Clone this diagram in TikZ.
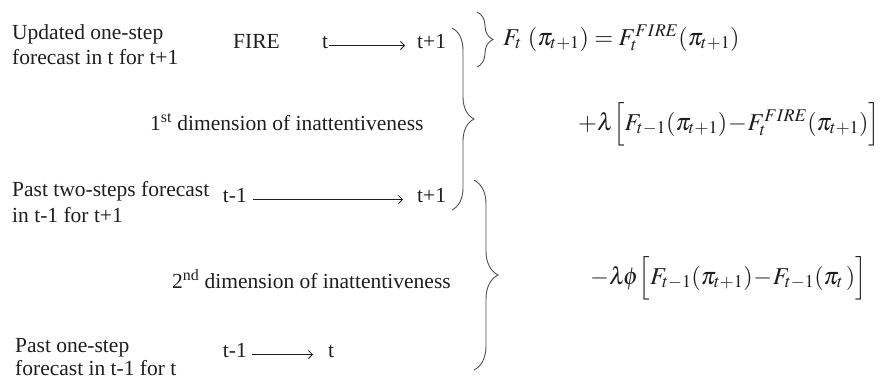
\documentclass[tikz,border=0pt]{standalone}
\usepackage{mathptmx}
\usepackage[no-math]{fontspec}
\setmainfont{Liberation Serif}
\usetikzlibrary{decorations.pathreplacing,arrows.meta}
\definecolor{ink}{RGB}{30,30,30}
\definecolor{bracecol}{RGB}{80,80,80}
\newcommand{\tightminus}{\mskip0.5mu{-}\mskip0.5mu}
\tikzset{
  lbl/.style={inner sep=0pt, anchor=base west, text=ink, font=\fontsize{21.5}{25}\selectfont},
  tlbl/.style={lbl, text height=0.7em, text depth=0.2em},
  eqn/.style={inner sep=0pt, anchor=base west, text=ink, font=\fontsize{24.2}{29}\selectfont},
  arr/.style={draw=ink, line width=0.8pt, -{Straight Barb[length=4pt,width=8pt]}},
  brc/.style={draw=bracecol, line width=0.9pt, decorate, decoration={brace, amplitude=#1}},
}
\begin{document}
\begin{tikzpicture}[x=1pt,y=-1pt]
\useasboundingbox (0,0) rectangle (880,376);
% left labels
\node[lbl] (upd1) at (12,39) {Updated one-step};
\node[lbl] (upd2) at (12,64) {forecast in t for t+1};
\node[lbl] (pts1) at (12,196) {Past two-steps forecast};
\node[lbl] (pts2) at (12,222) {in t-1 for t+1};
\node[lbl] (pos1) at (15,352) {Past one-step};
\node[lbl] (pos2) at (15,375) {forecast in t-1 for t};
\node[lbl] (fire) at (233,48) {FIRE};
% time rows
\node[tlbl] (r1a) at (322,48) {t};
\node[tlbl] (r1b) at (417,48) {t+1};
\node[tlbl, anchor=base east] (r2a) at (247,202) {t-1};
\node[tlbl] (r2b) at (417,202) {t+1};
\node[tlbl, anchor=base east] (r3a) at (247,357) {t-1};
\node[tlbl] (r3b) at (328,357) {t};
\draw[arr, shorten <=1pt, shorten >=12pt] (r1a.east) -- (r1b.west);
\draw[arr, shorten <=6pt, shorten >=14pt] (r2a.east) -- (r2b.west);
\draw[arr, shorten <=5pt, shorten >=15pt] (r3a.east) -- (r3b.west);
% dimensions
\node[lbl] (dim1) at (150,130) {1\textsuperscript{st} dimension of inattentiveness};
\node[lbl] (dim2) at (172,288) {2\textsuperscript{nd} dimension of inattentiveness};
% braces
\coordinate (sbt) at (477,12);
\coordinate (sbb) at (477,67);
\coordinate (b1t) at (452,28);
\coordinate (b1b) at (452,210);
\coordinate (b2t) at (474,180);
\coordinate (b2b) at (474,370);
\draw[brc=16pt] (sbt) -- (sbb);
\draw[brc=22pt] (b1t) -- (b1b);
\draw[brc=24pt] (b2t) -- (b2b);
% equations
\node[eqn] (eq1) at (503,45) {$F_t\ (\pi_{t+1}) = F_t^{FIRE}(\pi_{t+1})$};
\node[eqn] (eq2) at (578,130) {$+\lambda\Big[F_{t-1}(\pi_{t+1})\tightminus F_t^{FIRE}(\pi_{t+1})\Big]$};
\node[eqn] (eq3) at (590,284) {$-\lambda\mskip-1.5mu\phi\Big[F_{t-1}(\pi_{t+1})\tightminus F_{t-1}(\pi_t\,)\Big]$};
\end{tikzpicture}
\end{document}
